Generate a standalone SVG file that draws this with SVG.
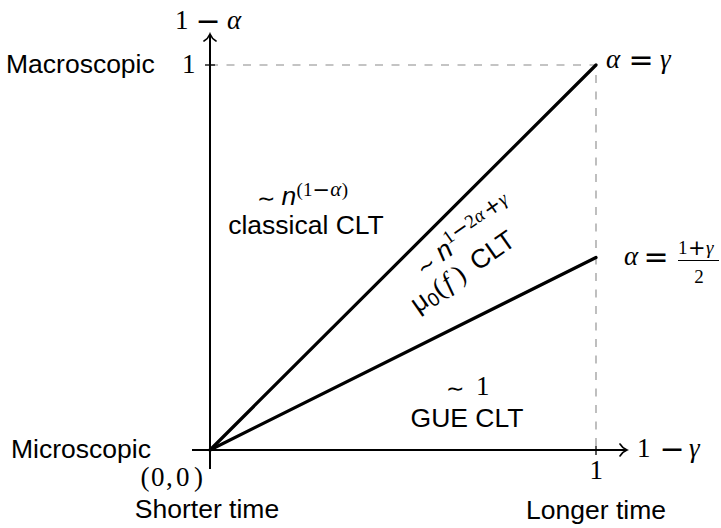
<svg xmlns="http://www.w3.org/2000/svg" width="721" height="528" viewBox="0 0 721 528">
<style>
.s{font-family:"Liberation Sans",Arial,sans-serif;font-size:26.5px;fill:#000}
.si{font-family:"Liberation Sans",Arial,sans-serif;font-style:italic;font-size:26.5px;fill:#000}
.m{font-family:"Liberation Serif","Times New Roman",serif;font-size:27px;fill:#000}
.mi{font-family:"Liberation Serif","Times New Roman",serif;font-style:italic;font-size:27px;fill:#000}
.op{font-family:"DejaVu Sans",sans-serif;font-size:30px;fill:#000}
.sim{font-family:"DejaVu Sans",sans-serif;font-size:22px;fill:#000}
.sm{font-size:19px}
.ops{font-family:"DejaVu Sans",sans-serif;font-size:21px;fill:#000}
.axis{stroke:#000;stroke-width:2;fill:none}
.curve{stroke:#000;stroke-width:3.2;fill:none;stroke-linecap:round}
.dash{stroke:#8a8a8a;stroke-width:1.1;stroke-dasharray:8 8.5;fill:none}
.tick{stroke:#000;stroke-width:1.3}
</style>
<defs>
<marker id="arrow" markerUnits="userSpaceOnUse" viewBox="-9 -8 11 16" refX="0" refY="0" markerWidth="11" markerHeight="16" orient="auto">
<path d="M-7,-6 C-5,-2.5 -2,-0.8 0,0 C-2,0.8 -5,2.5 -7,6" fill="none" stroke="#000" stroke-width="1.6" stroke-linecap="round"/>
</marker>
</defs>

<g id="connectors">
<path class="dash" d="M210,65 H596 V450"/>
<line class="axis" x1="210" y1="469" x2="210" y2="34" marker-end="url(#arrow)"/>
<line class="axis" x1="192" y1="450" x2="627" y2="450" marker-end="url(#arrow)"/>
<line class="tick" x1="205" y1="65" x2="215" y2="65"/>
<line class="tick" x1="596" y1="446" x2="596" y2="455"/>
<line class="curve" x1="210" y1="450" x2="596" y2="65"/>
<line class="curve" x1="210" y1="450" x2="596" y2="257.5"/>
</g>

<g id="label-y-axis">
<text y="29"><tspan class="m" x="175">1</tspan><tspan class="op" x="208" dy="2" text-anchor="middle">−</tspan><tspan class="mi" x="227" dy="-2">α</tspan></text>
</g>
<g id="label-macroscopic"><text class="s" x="6" y="73">Macroscopic</text></g>
<g id="label-y-one"><text class="m" x="182" y="73">1</text></g>

<g id="label-alpha-gamma">
<text y="68"><tspan class="mi" x="606">α</tspan><tspan class="op" x="641" dy="2" text-anchor="middle">=</tspan><tspan class="mi" x="660" dy="-2">γ</tspan></text>
</g>

<g id="label-alpha-half">
<text y="265"><tspan class="mi" x="624">α</tspan><tspan class="op" x="656" dy="2" text-anchor="middle">=</tspan></text>
<text y="254"><tspan class="m sm" x="678">1</tspan><tspan class="ops" x="688" dy="1">+</tspan><tspan class="mi sm" x="706" dy="-1">γ</tspan></text>
<line x1="678" y1="260.5" x2="719" y2="260.5" stroke="#000" stroke-width="1"/>
<text class="m sm" x="699" y="283" text-anchor="middle">2</text>
</g>

<g id="label-classical">
<text y="206"><tspan class="sim" x="257">∼</tspan><tspan class="si" x="281.5" dy="-1">n</tspan><tspan class="m sm" x="296.5" dy="-9">(</tspan><tspan class="m sm" x="303">1</tspan><tspan class="ops" x="312.5" dy="1">−</tspan><tspan class="mi" style="font-size:21px" x="330.2" dy="-1">α</tspan><tspan class="m sm" x="341.8">)</tspan></text>
<text class="s" x="306" y="234" text-anchor="middle">classical CLT</text>
</g>

<g id="label-mu0" transform="translate(424,275) rotate(-35)">
<text y="1"><tspan class="sim" x="-2">∼</tspan><tspan class="si" x="23" dy="-1">n</tspan><tspan class="m sm" x="37" dy="-11">1</tspan><tspan class="ops" x="46.6" dy="1">−</tspan><tspan class="m sm" x="64.3" dy="-1">2</tspan><tspan class="mi sm" x="74">α</tspan><tspan class="ops" x="86" dy="1">+</tspan><tspan class="mi sm" x="104" dy="-1">γ</tspan></text>
<text y="28"><tspan class="s" x="-27">μ</tspan><tspan class="s sm" x="-11.5" dy="4">0</tspan><tspan class="m" x="0" dy="-4">(</tspan><tspan class="mi" x="11">f</tspan><tspan class="m" x="25">)</tspan><tspan class="s" x="46">CLT</tspan></text>
</g>

<g id="label-gue">
<text y="396"><tspan class="sim" x="446">∼</tspan><tspan class="m" x="476" dy="-1">1</tspan></text>
<text class="s" x="467" y="427" text-anchor="middle">GUE CLT</text>
</g>

<g id="label-microscopic"><text class="s" x="11" y="458">Microscopic</text></g>
<g id="label-origin">
<text y="486"><tspan class="m" x="140.5">(</tspan><tspan class="m" x="151">0</tspan><tspan class="m" x="166">,</tspan><tspan class="m" x="176">0</tspan><tspan class="m" x="194">)</tspan></text>
</g>
<g id="label-x-one"><text class="m" x="589.5" y="479">1</text></g>
<g id="label-x-axis">
<text y="457"><tspan class="m" x="637">1</tspan><tspan class="op" x="672" dy="2" text-anchor="middle">−</tspan><tspan class="mi" x="689" dy="-2">γ</tspan></text>
</g>
<g id="label-shorter"><text class="s" x="207" y="518" text-anchor="middle">Shorter time</text></g>
<g id="label-longer"><text class="s" x="596" y="519" text-anchor="middle">Longer time</text></g>
</svg>
